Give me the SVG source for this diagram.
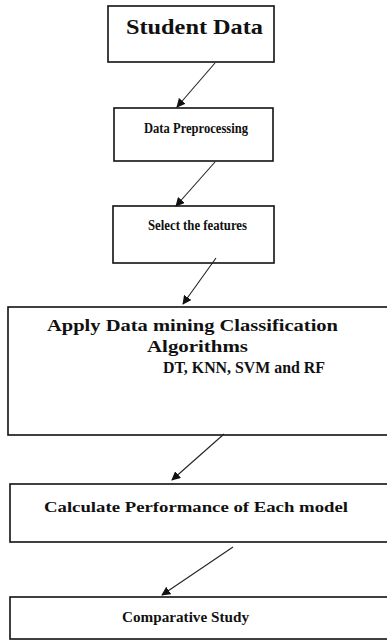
<svg xmlns="http://www.w3.org/2000/svg" width="387" height="641" viewBox="0 0 387 641">
  <defs>
    <marker id="arrow" viewBox="0 0 10 10" refX="9" refY="5" markerWidth="9" markerHeight="9" markerUnits="userSpaceOnUse" orient="auto">
      <path d="M0,0 L10,5 L0,10 z" fill="#111"/>
    </marker>
    <style>
      .box { fill: #fff; stroke: #111; stroke-width: 1.6; }
      .lbl { font-family: 'Liberation Serif', 'DejaVu Serif', serif; font-weight: bold; fill: #111; }
      .conn { stroke: #222; stroke-width: 1.1; fill: none; marker-end: url(#arrow); }
    </style>
  </defs>
  <rect width="387" height="641" fill="#fff"/>

  <g id="student-data">
    <rect class="box" x="108" y="6" width="166" height="56"/>
    <text class="lbl" x="126" y="34" font-size="22" textLength="137" lengthAdjust="spacingAndGlyphs">Student Data</text>
  </g>

  <g id="data-preprocessing">
    <rect class="box" x="114" y="108" width="159" height="53"/>
    <text class="lbl" x="144" y="133" font-size="15" textLength="104" lengthAdjust="spacingAndGlyphs">Data Preprocessing</text>
  </g>

  <g id="select-features">
    <rect class="box" x="113" y="206" width="161" height="57"/>
    <text class="lbl" x="148" y="230" font-size="15" textLength="99" lengthAdjust="spacingAndGlyphs">Select the features</text>
  </g>

  <g id="apply-algorithms">
    <rect class="box" x="8" y="307" width="390" height="128"/>
    <text class="lbl" x="47" y="331" font-size="17" textLength="291" lengthAdjust="spacingAndGlyphs">Apply Data mining Classification</text>
    <text class="lbl" x="147" y="352" font-size="17" textLength="101" lengthAdjust="spacingAndGlyphs">Algorithms</text>
    <text class="lbl" x="163" y="373" font-size="17" textLength="162" lengthAdjust="spacingAndGlyphs">DT, KNN, SVM and RF</text>
  </g>

  <g id="calculate-performance">
    <rect class="box" x="10" y="484" width="390" height="58"/>
    <text class="lbl" x="44" y="512" font-size="15" textLength="304" lengthAdjust="spacingAndGlyphs">Calculate Performance of Each model</text>
  </g>

  <g id="comparative-study">
    <rect class="box" x="10" y="597" width="390" height="42"/>
    <text class="lbl" x="122" y="622" font-size="15" textLength="127" lengthAdjust="spacingAndGlyphs">Comparative Study</text>
  </g>

  <g id="connectors">
    <line class="conn" x1="215" y1="63" x2="177" y2="107"/>
    <line class="conn" x1="215" y1="162" x2="176" y2="206"/>
    <line class="conn" x1="216" y1="258" x2="183" y2="304"/>
    <line class="conn" x1="224" y1="434" x2="172" y2="480"/>
    <line class="conn" x1="233" y1="547" x2="162" y2="595"/>
  </g>
</svg>
